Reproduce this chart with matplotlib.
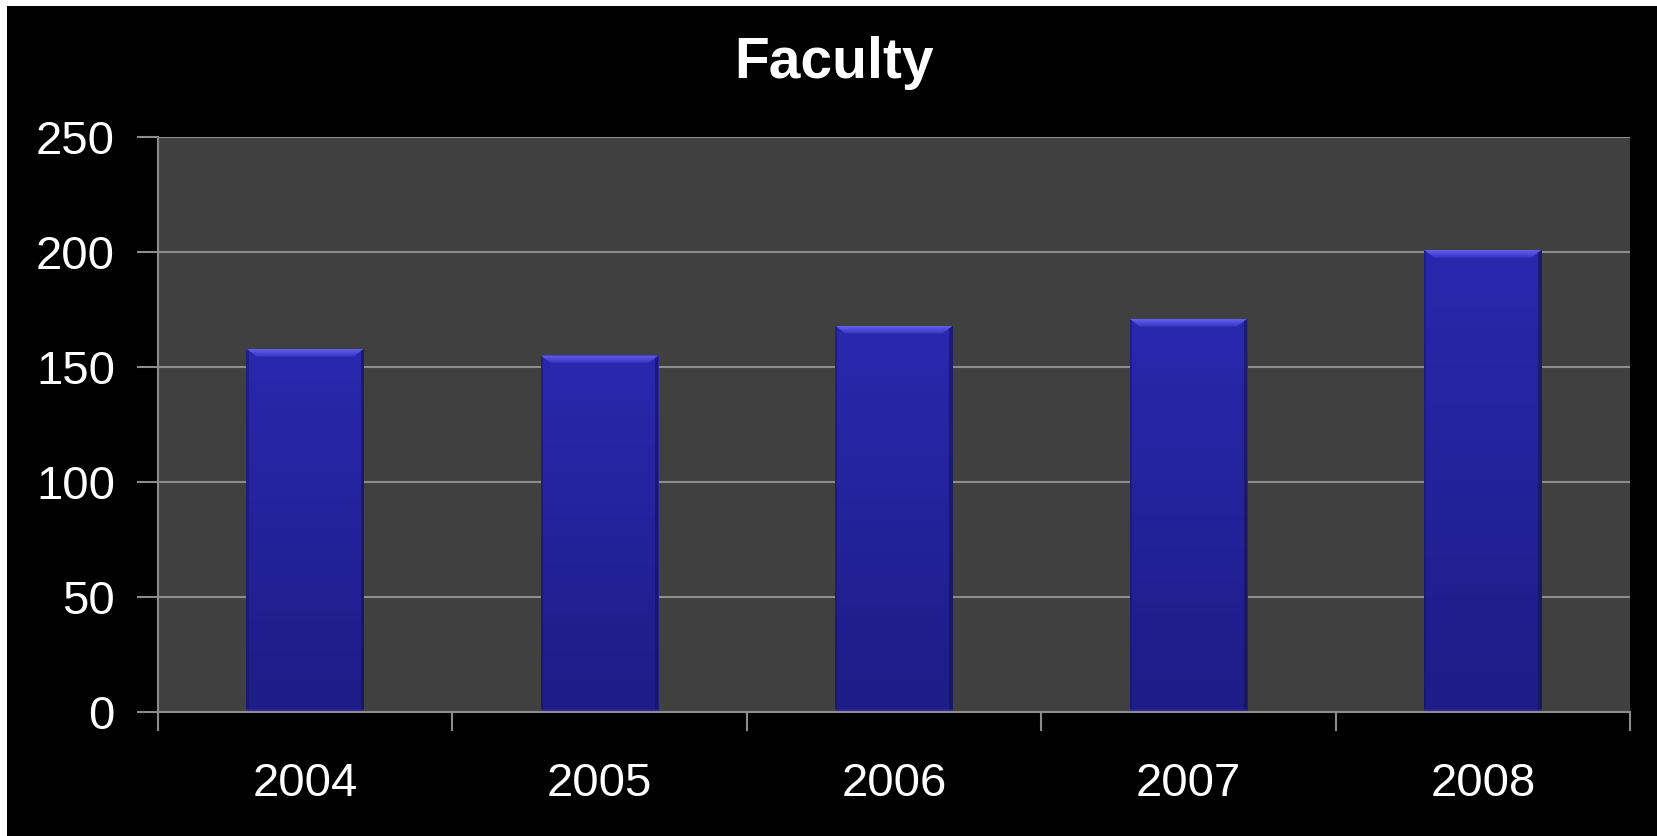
import numpy as np
import matplotlib
matplotlib.use("Agg")
import matplotlib.pyplot as plt
from matplotlib.patches import Rectangle, Polygon
from matplotlib.colors import LinearSegmentedColormap

title = "Faculty"
categories = ["2004", "2005", "2006", "2007", "2008"]
values = [158, 155, 168, 171, 201]
yticks = [0, 50, 100, 150, 200, 250]

W, H = 1657, 836
fig = plt.figure(figsize=(W / 100, H / 100), dpi=100, facecolor="white")
fig.patches.append(Rectangle((7 / W, 0), 1 - 7 / W, 1 - 6 / H, transform=fig.transFigure,
                             facecolor="black", edgecolor="none", zorder=-10))

left, right = 158 / W, 1630 / W
bottom, top = 1 - 712 / H, 1 - 137 / H
ax = fig.add_axes([left, bottom, right - left, top - bottom])
ax.set_facecolor("#404040")

x = np.arange(len(categories))
bw = 0.4
bars = ax.bar(x, values, width=bw, color="#2626a0", edgecolor="none", zorder=3)

cmap = LinearSegmentedColormap.from_list("bg", ["#1e1c86", "#2a28ae"])
grad = np.linspace(0, 1, 256).reshape(-1, 1)
ppu_y = 575 / 250
bevel = 8 / ppu_y
bcmap = LinearSegmentedColormap.from_list("bv", ["#3434c0", "#6262ee"])
for b in bars:
    x0, w, h = b.get_x(), b.get_width(), b.get_height()
    im = ax.imshow(grad, extent=[x0, x0 + w, 0, h], origin="lower", cmap=cmap,
                   aspect="auto", zorder=3.1)
    im.set_clip_path(b)
    dx = w * 0.09
    poly = Polygon([[x0, h], [x0 + w, h], [x0 + w - dx, h - bevel], [x0 + dx, h - bevel]],
                   closed=True, facecolor="none", edgecolor="none", zorder=3.3)
    ax.add_patch(poly)
    im2 = ax.imshow(grad, extent=[x0, x0 + w, h - bevel, h], origin="lower", cmap=bcmap,
                    aspect="auto", zorder=3.3)
    im2.set_clip_path(poly)
    ax.add_patch(Rectangle((x0 + w - 0.012, 0), 0.012, h, facecolor="#14144a", alpha=0.6,
                           edgecolor="none", zorder=3.2))
    ax.add_patch(Rectangle((x0, 0), 0.008, h, facecolor="#14144a", alpha=0.4,
                           edgecolor="none", zorder=3.2))
    ax.add_patch(Rectangle((x0, 0), w, 1.5, facecolor="#2a2aa0", alpha=0.7,
                           edgecolor="none", zorder=3.2))

ax.set_xlim(-0.5, len(categories) - 0.5)
ax.set_ylim(0, 250)
ax.set_yticks(yticks)
ax.set_yticklabels([str(t) for t in yticks])
ax.set_xticks(x)
ax.set_xticklabels(categories)
ax.set_xticks(np.arange(-0.5, len(categories)), minor=True)

ax.yaxis.grid(True, color="#8c8c8c", linewidth=1.5, zorder=1)
ax.set_axisbelow(True)

for s in ["top", "right"]:
    ax.spines[s].set_visible(False)
for s in ["left", "bottom"]:
    ax.spines[s].set_color("#8c8c8c")
    ax.spines[s].set_linewidth(1.5)
    ax.spines[s].set_zorder(5)

fnt = ["Liberation Sans", "DejaVu Sans"]
ax.tick_params(axis="y", colors="#8c8c8c", labelcolor="white", length=15, width=1.5,
               labelsize=34, pad=16)
ax.tick_params(axis="x", which="major", length=0, labelcolor="white", labelsize=34, pad=36)
ax.tick_params(axis="x", which="minor", length=14, width=1.5, color="#8c8c8c")
for lbl in ax.get_xticklabels() + ax.get_yticklabels():
    lbl.set_family(fnt)

fig.text(834 / W, 1 - 63 / H, title, ha="center", va="center", color="white",
         fontsize=41, fontweight="bold", family=fnt)

fig.savefig("out.png", dpi=100, facecolor=fig.get_facecolor())
